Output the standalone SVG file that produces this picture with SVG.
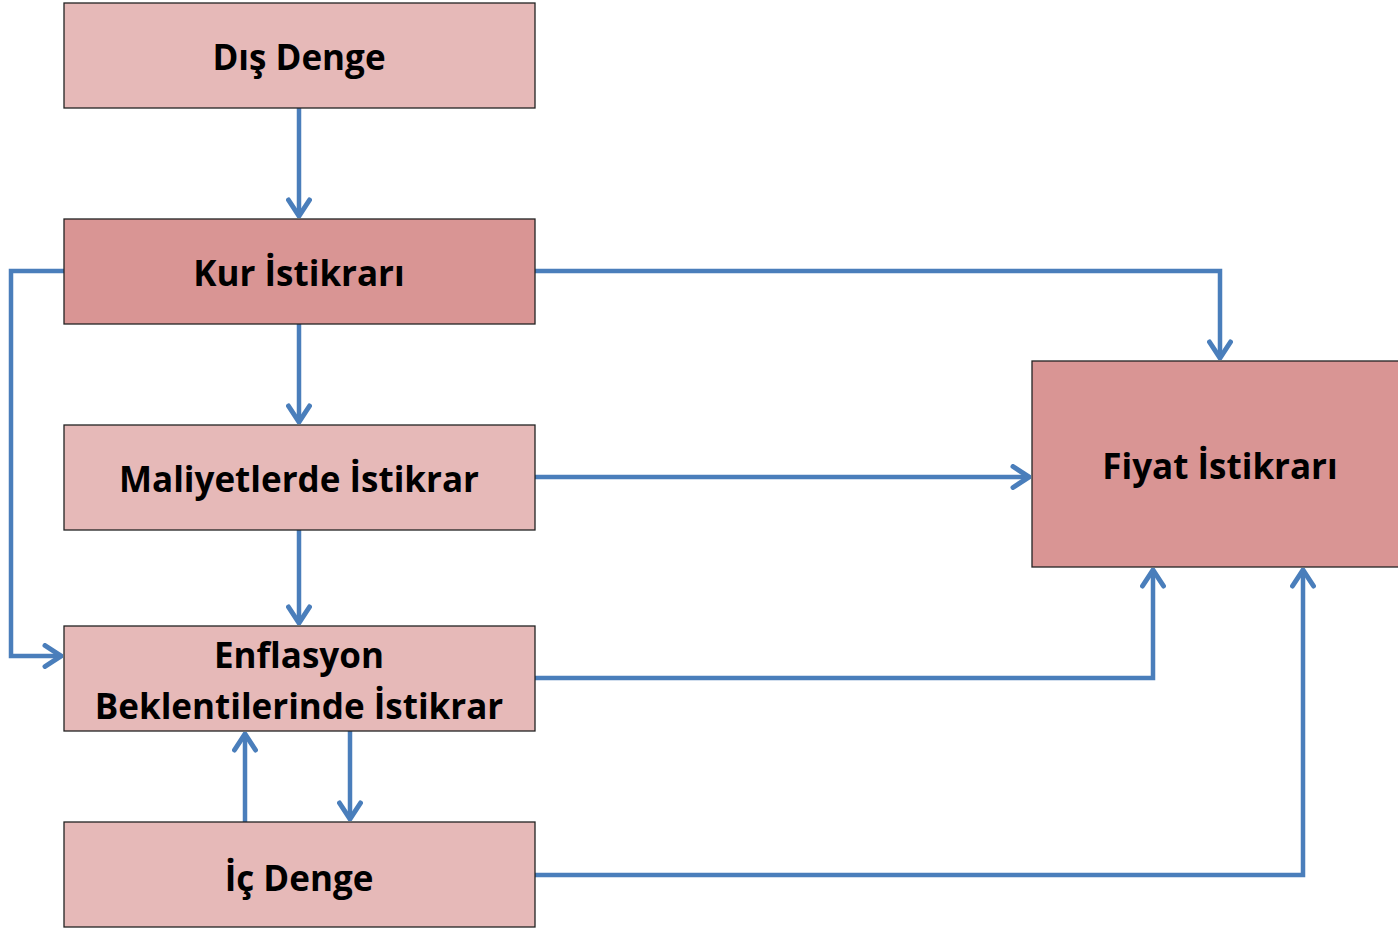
<svg xmlns="http://www.w3.org/2000/svg" width="1398" height="928" viewBox="0 0 1398 928">
<style>
.light{fill:#E6B9B8;stroke:#222;stroke-width:1.3}
.dark{fill:#D99594;stroke:#222;stroke-width:1.3}
.lbl{font-family:"Open Sans","Noto Sans",sans-serif;font-weight:bold;font-size:35px;fill:#000;text-anchor:middle;dominant-baseline:central}
.conn{fill:none;stroke:#4A7EBB;stroke-width:4.5;marker-end:url(#arr)}
</style>
<defs>
<marker id="arr" markerUnits="userSpaceOnUse" viewBox="-20 -13 22 26" refX="0" refY="0" markerWidth="22" markerHeight="26" orient="auto">
<polyline points="-16,-10.5 0,0 -16,10.5" fill="none" stroke="#4A7EBB" stroke-width="5" stroke-linecap="round" stroke-linejoin="miter"/>
</marker>
</defs>
<g id="connectors">
<path class="conn" d="M299,108 V216"/>
<path class="conn" d="M299,324 V422"/>
<path class="conn" d="M299,530 V623"/>
<path class="conn" d="M64,271 H11 V656 H61"/>
<path class="conn" d="M535,271 H1220 V358"/>
<path class="conn" d="M535,477 H1029"/>
<path class="conn" d="M535,678 H1153 V570"/>
<path class="conn" d="M535,875 H1303 V570"/>
<path class="conn" d="M245,822 V734"/>
<path class="conn" d="M350,731 V819"/>
</g>
<g id="dis-denge"><rect class="light" x="64" y="3" width="471" height="105"/><text class="lbl" x="299" y="56">Dış Denge</text></g>
<g id="kur-istikrari"><rect class="dark" x="64" y="219" width="471" height="105"/><text class="lbl" x="299" y="272">Kur İstikrarı</text></g>
<g id="maliyetlerde-istikrar"><rect class="light" x="64" y="425" width="471" height="105"/><text class="lbl" x="299" y="478">Maliyetlerde İstikrar</text></g>
<g id="enflasyon-beklentileri"><rect class="light" x="64" y="626" width="471" height="105"/><text class="lbl" x="299" y="654">Enflasyon</text><text class="lbl" x="299" y="705">Beklentilerinde İstikrar</text></g>
<g id="ic-denge"><rect class="light" x="64" y="822" width="471" height="105"/><text class="lbl" x="299" y="877">İç Denge</text></g>
<g id="fiyat-istikrari"><rect class="dark" x="1032" y="361" width="368" height="206"/><text class="lbl" x="1220" y="465">Fiyat İstikrarı</text></g>
</svg>
